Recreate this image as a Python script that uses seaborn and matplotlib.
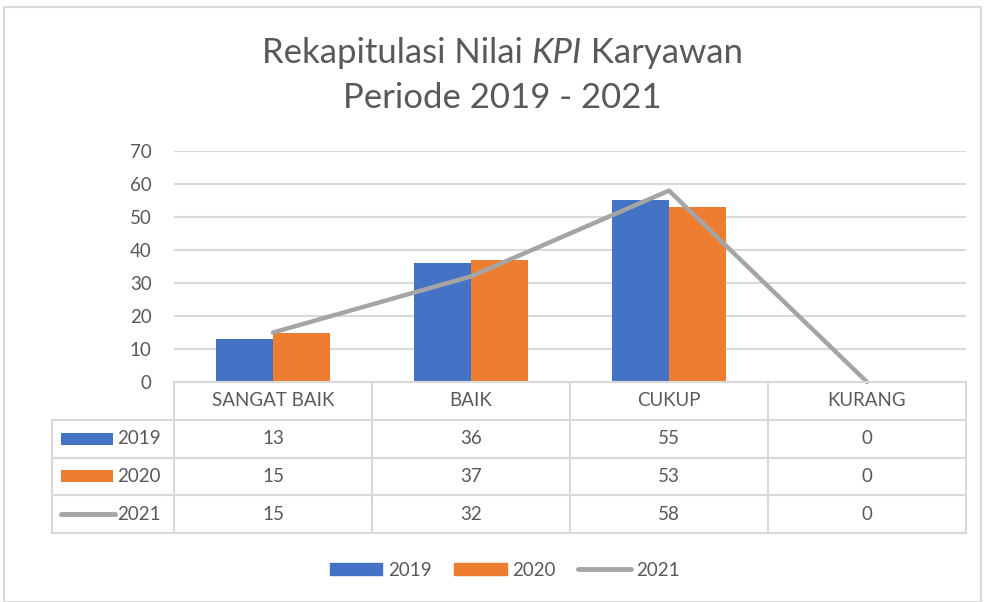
import matplotlib
matplotlib.use("Agg")
import matplotlib.pyplot as plt
from matplotlib.lines import Line2D
from matplotlib.patches import Rectangle
import pandas as pd
import seaborn as sns

categories = ["SANGAT BAIK", "BAIK", "CUKUP", "KURANG"]
years = ["2019", "2020", "2021"]
v2019 = [13, 36, 55, 0]
v2020 = [15, 37, 53, 0]
v2021 = [15, 32, 58, 0]
yticks = [0, 10, 20, 30, 40, 50, 60, 70]

blue, orange, grey = "#4472C4", "#ED7D31", "#A5A5A5"
txt, rule = "#595959", "#D9D9D9"

sns.set_theme(style="white")
plt.rcParams["font.family"] = ["Lato", "DejaVu Sans"]

W, H = 984, 602
fig = plt.figure(figsize=(W / 100, H / 100), dpi=100)


def box(l, t, r, b):
    return [l / W, 1 - b / H, (r - l) / W, (b - t) / H]


# outer chart border
fig.patches.append(Rectangle((4 / W, 0), 977 / W, 1 - 7 / H, transform=fig.transFigure,
                             fill=False, ec=rule, lw=1.5))

# --- bars + line ---
ax = fig.add_axes(box(174, 151, 966, 382))
bars = pd.DataFrame({
    "cat": categories * 2,
    "year": ["2019"] * 4 + ["2020"] * 4,
    "val": v2019 + v2020,
})
sns.barplot(data=bars, x="cat", y="val", hue="year", order=categories,
            palette=[blue, orange], width=0.58, gap=0, saturation=1, linewidth=0, ax=ax)
ax.get_legend().remove()
ax.plot(range(len(categories)), v2021, color=grey, lw=3.2, solid_capstyle="round",
        clip_on=False, zorder=4)
ax.set_xlim(-0.5, len(categories) - 0.5)
ax.set_ylim(0, 70)
ax.set_yticks(yticks)
ax.set_yticklabels([str(t) for t in yticks], fontsize=13.5, color=txt)
ax.tick_params(axis="y", length=0, pad=16)
ax.set_xticks([])
ax.set_xlabel("")
ax.set_ylabel("")
for s in ax.spines.values():
    s.set_visible(False)
for t in yticks[1:]:
    ax.axhline(t, color=rule, lw=1.5, zorder=0)

# --- data table ---
lead = 122 / 198
tb = fig.add_axes(box(52, 382, 966, 533))
tb.set_xlim(-0.5 - lead, len(categories) - 0.5)
tb.set_ylim(4, 0)
tb.axis("off")
x0 = -0.5 - lead
for r in range(5):
    start = -0.5 if r == 0 else x0
    tb.plot([start, len(categories) - 0.5], [r, r], color=rule, lw=1.5, clip_on=False)
for c in range(len(categories) + 1):
    tb.plot([c - 0.5, c - 0.5], [0, 4], color=rule, lw=1.5, clip_on=False)
tb.plot([x0, x0], [1, 4], color=rule, lw=1.5, clip_on=False)

for i, cat in enumerate(categories):
    tb.text(i, 0.5, cat, ha="center", va="center", fontsize=13.5, color=txt)
for r, vals in enumerate([v2019, v2020, v2021], start=1):
    for i, v in enumerate(vals):
        tb.text(i, r + 0.5, str(v), ha="center", va="center", fontsize=13.5, color=txt)

px = 1 / 198
key_l, key_r = x0 + 9 * px, x0 + 61 * px
for r, (yr, col) in enumerate(zip(years, [blue, orange, grey]), start=1):
    if yr == "2021":
        tb.plot([key_l, key_r + 2 * px], [r + 0.5, r + 0.5], color=col, lw=3.5,
                solid_capstyle="round")
    else:
        tb.add_patch(Rectangle((key_l, r + 0.34), key_r - key_l, 0.32, color=col, lw=0))
    tb.text(key_r + 4 * px, r + 0.5, yr, ha="left", va="center", fontsize=13.5, color=txt)

# --- bottom legend ---
handles = [Rectangle((0, 0), 1, 1, color=blue), Rectangle((0, 0), 1, 1, color=orange),
           Line2D([], [], color=grey, lw=3.5, solid_capstyle="round")]
fig.legend(handles, years, loc="center", bbox_to_anchor=(505 / W, 1 - 570 / H), ncol=3,
           frameon=False, fontsize=13.5, labelcolor=txt, handlelength=2.8,
           handleheight=0.65, handletextpad=0.3, columnspacing=1.2)

# --- title with italic KPI ---
parts = [("Rekapitulasi Nilai ", "normal"), ("KPI", "italic"), (" Karyawan", "normal")]
fig.canvas.draw()
renderer = fig.canvas.get_renderer()
objs = [fig.text(0, 1 - 53 / H, s, fontsize=25, style=st, color=txt, va="center")
        for s, st in parts]
widths = [o.get_window_extent(renderer).width for o in objs]
x = 502 - sum(widths) / 2
for o, w in zip(objs, widths):
    o.set_x(x / W)
    x += w
fig.text(502 / W, 1 - 98 / H, "Periode 2019 - 2021", fontsize=25, color=txt, ha="center",
         va="center")

fig.savefig("out.png", dpi=100)
